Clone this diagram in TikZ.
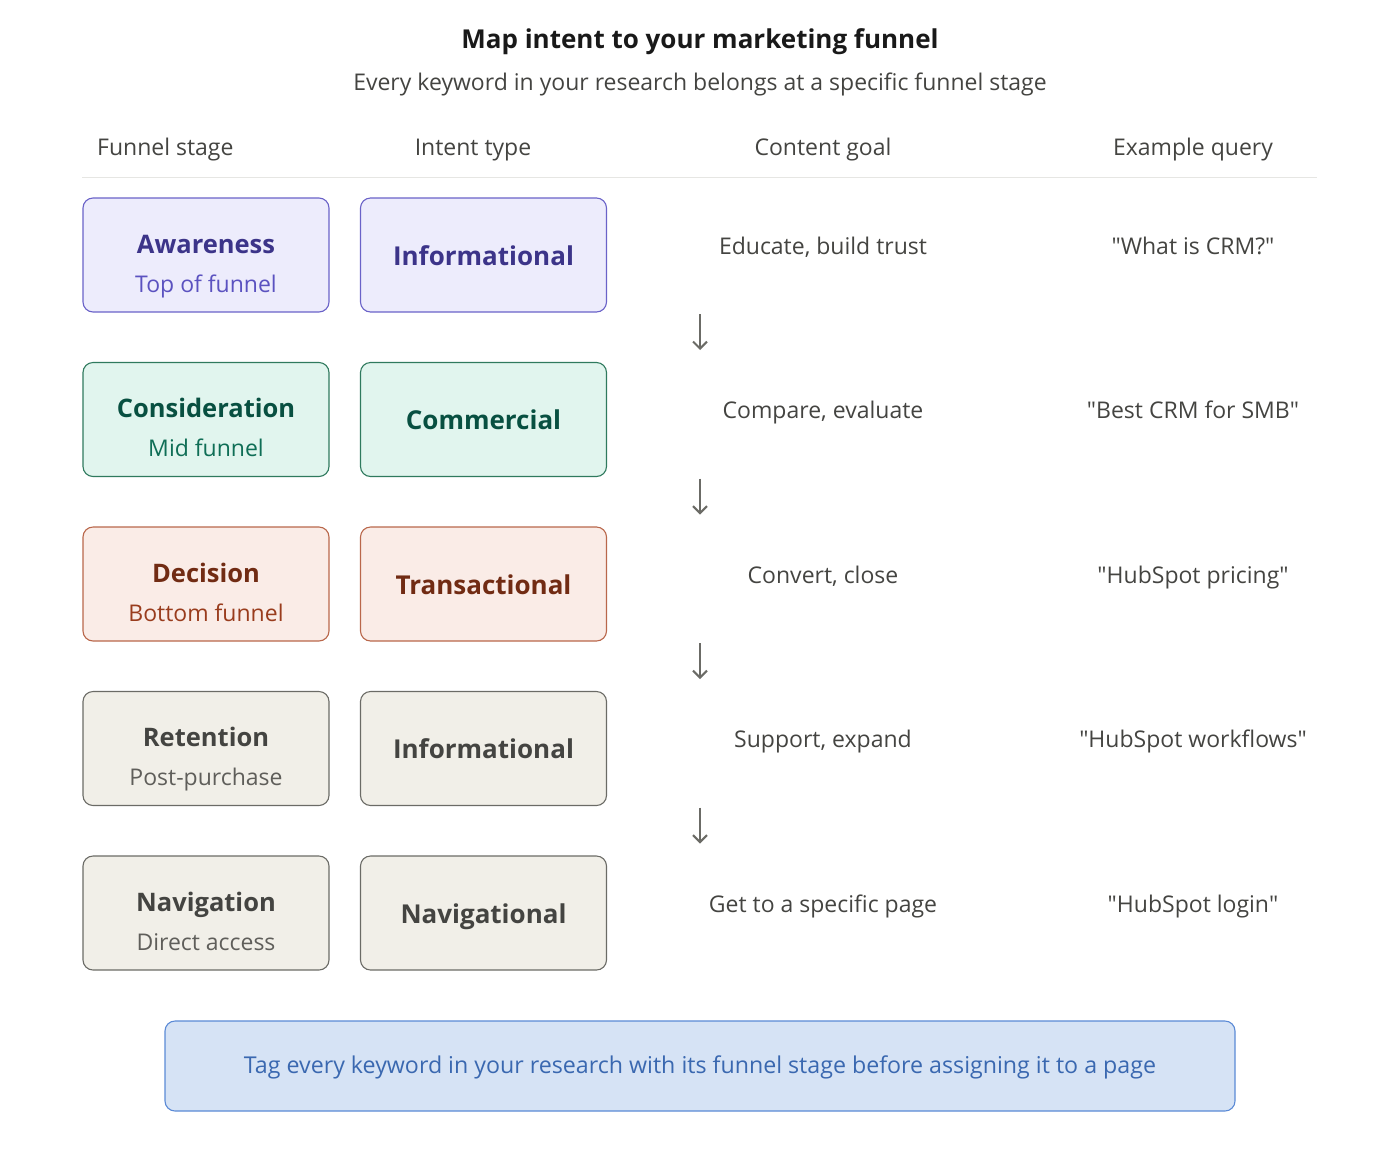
\documentclass[tikz,border=0pt]{standalone}
\usepackage{fontspec}
\setmainfont{Open Sans}
\newfontfamily\plainqf{Open Sans}
\usetikzlibrary{arrows.meta}
\definecolor{ink}{HTML}{444441}
\definecolor{rule}{HTML}{E6E6E3}
\definecolor{arr}{HTML}{6B6B66}
\definecolor{pfill}{HTML}{EDECFC}\definecolor{pdraw}{HTML}{6A62C8}\definecolor{ptitle}{HTML}{3C3489}\definecolor{psub}{HTML}{5B52C0}
\definecolor{gfill}{HTML}{E1F5EE}\definecolor{gdraw}{HTML}{2F7A5E}\definecolor{gtitle}{HTML}{085041}\definecolor{gsub}{HTML}{0F6E56}
\definecolor{rfill}{HTML}{FAECE7}\definecolor{rdraw}{HTML}{B9674B}\definecolor{rtitle}{HTML}{712B13}\definecolor{rsub}{HTML}{993C1D}
\definecolor{nfill}{HTML}{F1EFE8}\definecolor{ndraw}{HTML}{6B6B66}\definecolor{ntitle}{HTML}{444441}\definecolor{nsub}{HTML}{5F5E5A}
\definecolor{bfill}{HTML}{D6E3F5}\definecolor{bdraw}{HTML}{5B8AD6}\definecolor{btext}{HTML}{3A68B0}
\newcommand{\qq}[1]{{\plainqf"}#1{\plainqf"}}
\tikzset{
  card/.style={draw=#1draw, fill=#1fill, line width=1.1pt, rounded corners=10pt, minimum width=246pt, minimum height=114pt, inner sep=0pt},
  ttl/.style={anchor=base, text=#1title, font=\fontsize{25.5}{30}\selectfont\bfseries, inner sep=0pt},
  sub/.style={anchor=base, text=#1sub, font=\fontsize{23}{27}\selectfont, inner sep=0pt},
  intent/.style={anchor=base, text=#1title, font=\fontsize{26}{31}\selectfont\bfseries, inner sep=0pt},
  cell/.style={anchor=base, text=ink, font=\fontsize{23}{27}\selectfont, inner sep=0pt},
  flow/.style={draw=arr, line width=2pt, -{Straight Barb[length=7pt,width=14pt,line width=2pt]}},
}
\begin{document}
\begin{tikzpicture}[x=1pt,y=-1pt]
\useasboundingbox (0,0) rectangle (1400,1152);
\node[anchor=base, text=black!90, font=\fontsize{26}{31}\selectfont\bfseries] (title) at (700,48) {Map intent to your marketing funnel};
\node[anchor=base, text=ink, font=\fontsize{23}{27}\selectfont] (subtitle) at (700,90) {Every keyword in your research belongs at a specific funnel stage};
\node[cell, anchor=base west] (h1) at (97,155) {Funnel stage};
\node[cell] (h2) at (473,155) {Intent type};
\node[cell] (h3) at (823,155) {Content goal};
\node[cell] (h4) at (1193,155) {Example query};
\coordinate (rl) at (82,177.5);
\coordinate (rr) at (1317,177.5);
\draw[rule, line width=1pt] (rl) -- (rr);
% rows
\foreach \i/\top/\c/\st/\ss/\it/\goal/\q in {
 1/198/p/Awareness/Top of funnel/Informational/{Educate, build trust}/{What is CRM?},
 2/362.5/g/Consideration/Mid funnel/Commercial/{Compare, evaluate}/{Best CRM for SMB},
 3/527/r/Decision/Bottom funnel/Transactional/{Convert, close}/{HubSpot pricing},
 4/691.5/n/Retention/Post-purchase/Informational/{Support, expand}/{HubSpot workflows},
 5/856/n/Navigation/Direct access/Navigational/{Get to a specific page}/{HubSpot login}}{
  \node[card=\c] (s\i) at (206,\top+57) {};
  \node[card=\c] (t\i) at (483.5,\top+57) {};
  \node[ttl=\c] (st\i) at (206,\top+55) {\st};
  \node[sub=\c] (ss\i) at (206,\top+94) {\ss};
  \node[intent=\c] (it\i) at (483.5,\top+67) {\it};
  \node[cell] (g\i) at (823,\top+56) {\goal};
  \node[cell] (q\i) at (1193,\top+56) {\qq{\q}};
  \coordinate (a\i) at (700,\top+116);
  \coordinate (b\i) at (700,\top+152);
}
\foreach \i in {1,...,4}{ \draw[flow] (a\i) -- (b\i); }
\node[draw=bdraw, fill=bfill, line width=1.1pt, rounded corners=10pt, minimum width=1070pt, minimum height=90pt] (note) at (700,1066) {};
\node[anchor=base, text=btext, font=\fontsize{23.2}{27}\selectfont, inner sep=0pt] (notetext) at (700,1073) {Tag every keyword in your research with its funnel stage before assigning it to a page};
\end{tikzpicture}
\end{document}
